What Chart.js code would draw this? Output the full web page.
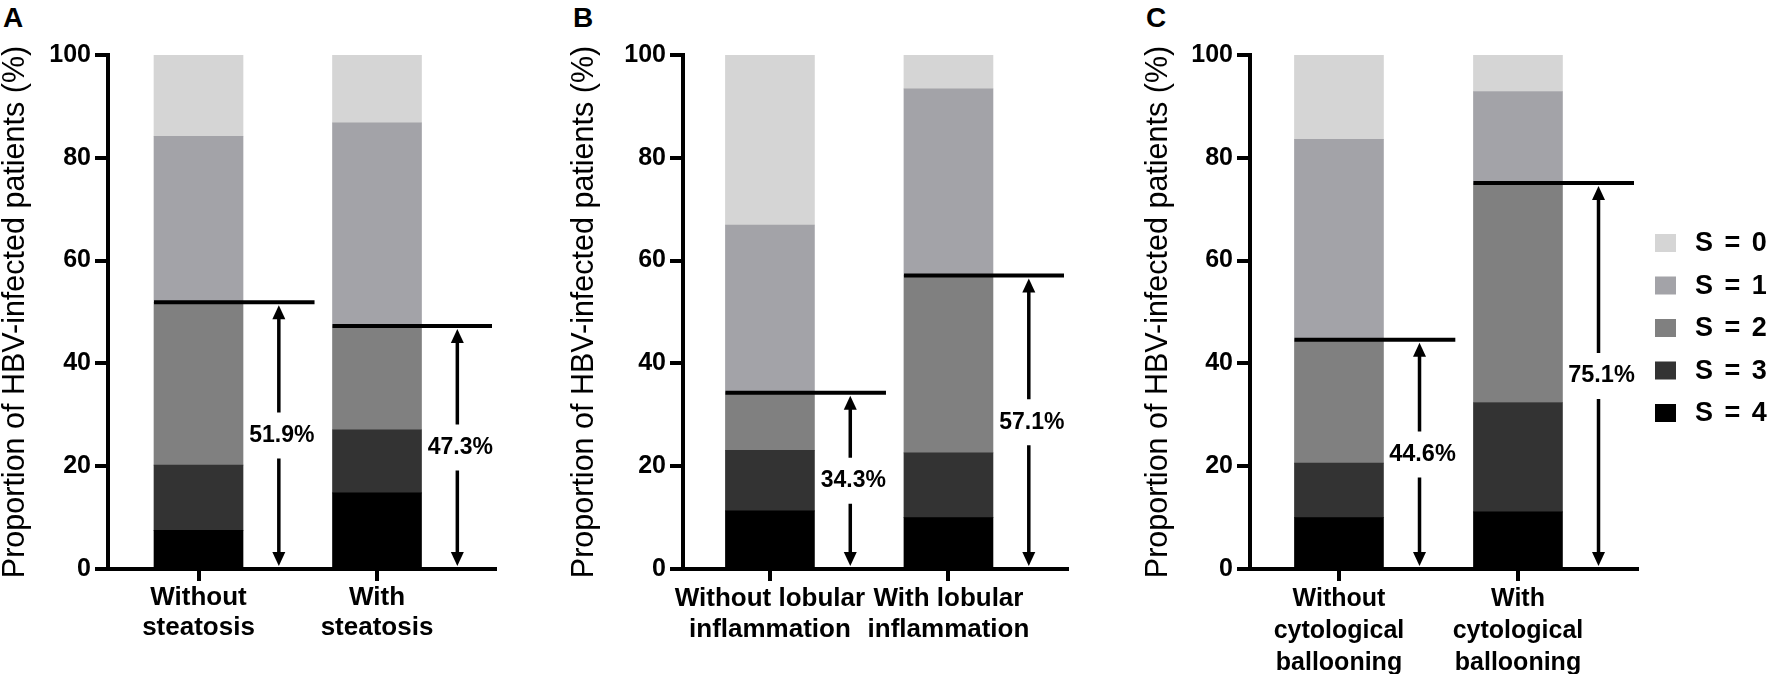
<!DOCTYPE html>
<html>
<head>
<meta charset="utf-8">
<script src="https://cdn.jsdelivr.net/npm/chart.js@4.4.1/dist/chart.umd.min.js"></script>
<style>
  body { margin: 0; background: #fff; width: 1772px; height: 674px; overflow: hidden; position: relative; }
  .panel { position: absolute; top: 0; }
  .tag { position: absolute; top: 2px; font: bold 28px 'Liberation Sans', Arial, sans-serif; color: #000; }
</style>
</head>
<body>
<div class="tag" style="left:3px">A</div>
<div class="tag" style="left:573px">B</div>
<div class="tag" style="left:1146px">C</div>
<canvas id="chartA" class="panel" style="left:0px" width="520" height="674"></canvas>
<canvas id="chartB" class="panel" style="left:569px" width="521" height="674"></canvas>
<canvas id="chartC" class="panel" style="left:1143px" width="629" height="674"></canvas>
<script>
// stages, bottom of the stack first
const stages = ['S = 4', 'S = 3', 'S = 2', 'S = 1', 'S = 0']
const stageColors = ['#000000', '#333333', '#808080', '#a3a3a8', '#d5d5d5']

const catsA = [['Without', 'steatosis'], ['With', 'steatosis']]
const catsB = [['Without lobular', 'inflammation'], ['With lobular', 'inflammation']]
const catsC = [['Without', 'cytological', 'ballooning'], ['With', 'cytological', 'ballooning']]

// % of patients per stage [S4, S3, S2, S1, S0]
const steatosisWithout = [7.5, 12.7, 31.7, 32.3, 15.8]
const steatosisWith = [14.8, 12.3, 20.2, 39.5, 13.2]
const lobularWithout = [11.3, 11.8, 11.2, 32.6, 33.1]
const lobularWith = [10.0, 12.6, 34.5, 36.3, 6.6]
const balloonWithout = [10.0, 10.6, 24.0, 39.0, 16.4]
const balloonWith = [11.1, 21.3, 42.7, 17.8, 7.1]

// share of patients with S >= 2
const advancedA = [51.9, 47.3]
const advancedB = [34.3, 57.1]
const advancedC = [44.6, 75.1]

const yTicks = [0, 20, 40, 60, 80, 100]

const SANS = "'Liberation Sans', Arial, sans-serif"
const BAR = 89

// panel C uses a condensed face; fall back to a smaller regular one if it is missing
function hasFont(name) {
  const c = document.createElement('canvas').getContext('2d')
  c.font = '40px monospace'
  const a = c.measureText('Without cytological 0123').width
  c.font = `40px '${name}', monospace`
  return c.measureText('Without cytological 0123').width !== a
}
const narrowOk = hasFont('Liberation Sans Narrow')
const NARROW = narrowOk ? "'Liberation Sans Narrow', " + SANS : SANS
const catC = narrowOk ? 28 : 25

// horizontal line + double arrow + percentage for each bar
const markers = {
  id: 'markers',
  afterDatasetsDraw(chart, args, opts) {
    const { ctx, scales: { x, y } } = chart
    const y0 = y.getPixelForValue(0)
    ctx.save()
    ctx.strokeStyle = '#000'
    ctx.fillStyle = '#000'
    opts.values.forEach((v, i) => {
      const yv = y.getPixelForValue(v)
      const xl = x.getPixelForValue(i) - BAR / 2
      const xr = i === opts.values.length - 1 ? x.right - 3 : x.getPixelForValue(i + 0.65)
      const xa = x.getPixelForValue(i + 0.45)
      const ym = y.getPixelForValue(v / 2)

      ctx.lineWidth = 4
      ctx.beginPath()
      ctx.moveTo(xl, yv)
      ctx.lineTo(xr, yv)
      ctx.stroke()

      // shaft, broken round the label
      ctx.lineWidth = 3.5
      ctx.beginPath()
      ctx.moveTo(xa, yv + 12)
      ctx.lineTo(xa, ym - 23)
      ctx.moveTo(xa, ym + 23)
      ctx.lineTo(xa, y0 - 12)
      ctx.stroke()

      // heads
      ctx.beginPath()
      ctx.moveTo(xa, yv + 3)
      ctx.lineTo(xa - 6.5, yv + 17)
      ctx.lineTo(xa + 6.5, yv + 17)
      ctx.closePath()
      ctx.fill()
      ctx.beginPath()
      ctx.moveTo(xa, y0 - 3)
      ctx.lineTo(xa - 6.5, y0 - 17)
      ctx.lineTo(xa + 6.5, y0 - 17)
      ctx.closePath()
      ctx.fill()

      ctx.font = opts.font
      ctx.textAlign = 'center'
      ctx.textBaseline = 'middle'
      ctx.fillText(v.toFixed(1) + '%', xa + 3, ym)
    })
    ctx.restore()
  }
}

// legend drawn from the datasets, top stage first
const stageLegend = {
  id: 'stageLegend',
  afterDraw(chart, args, opts) {
    if (!opts.show) return
    const { ctx } = chart
    const items = chart.data.datasets.slice().reverse()
    ctx.save()
    ctx.font = opts.font
    ctx.letterSpacing = '2px'
    ctx.textAlign = 'left'
    ctx.textBaseline = 'middle'
    items.forEach((ds, k) => {
      const cy = opts.top + k * opts.step
      ctx.fillStyle = ds.backgroundColor
      ctx.fillRect(opts.left, cy - 9, 21, 18)
      ctx.fillStyle = '#000'
      ctx.fillText(ds.label, opts.left + 40, cy + 1)
    })
    ctx.restore()
  }
}

function makeChart(id, cats, without, withV, advanced, cfg) {
  const datasets = stages.map((s, k) => ({
    label: s,
    data: [{ x: 0, y: without[k] }, { x: 1, y: withV[k] }],
    backgroundColor: stageColors[k],
    borderWidth: 0,
    barThickness: BAR
  }))
  return new Chart(document.getElementById(id), {
    type: 'bar',
    data: { datasets },
    plugins: [markers, stageLegend],
    options: {
      responsive: false,
      animation: false,
      devicePixelRatio: 1,
      layout: { padding: { top: 55, right: cfg.padRight, bottom: 0, left: 0 } },
      plugins: {
        legend: { display: false },
        tooltip: { enabled: false },
        markers: { values: advanced, font: cfg.pctFont },
        stageLegend: cfg.legend || { show: false }
      },
      scales: {
        x: {
          type: 'linear',
          stacked: true,
          offset: false,
          min: cfg.xMin,
          max: cfg.xMax,
          afterBuildTicks: s => { s.ticks = cats.map((c, i) => ({ value: i })) },
          afterFit: s => { s.height = 105 },
          ticks: {
            autoSkip: false,
            maxRotation: 0,
            padding: 2,
            color: '#000',
            font: { family: cfg.family, size: cfg.catSize, weight: 'bold', lineHeight: cfg.catLine },
            callback: v => cats[v]
          },
          grid: { drawOnChartArea: false, offset: false, tickLength: 12, lineWidth: 4, color: '#000' },
          border: { width: 4, color: '#000' }
        },
        y: {
          stacked: true,
          min: 0,
          max: 100,
          afterBuildTicks: s => { s.ticks = yTicks.map(v => ({ value: v })) },
          afterFit: s => { s.width = cfg.yWidth },
          ticks: {
            padding: 4,
            color: '#000',
            font: { family: cfg.family, size: cfg.tickSize, weight: 'bold' }
          },
          grid: { drawOnChartArea: false, tickLength: 13, lineWidth: 4, color: '#000' },
          border: { width: 4, color: '#000' },
          title: {
            display: true,
            text: 'Proportion of HBV-infected patients (%)',
            color: '#000',
            padding: 0,
            font: { family: SANS, size: 30.5, weight: 'normal', lineHeight: 1 }
          }
        }
      }
    }
  })
}

makeChart('chartA', catsA, steatosisWithout, steatosisWith, advancedA, {
  family: SANS, catSize: 26, catLine: '30px', tickSize: 25, pctFont: 'bold 23px ' + SANS,
  yWidth: 108, padRight: 25, xMin: -0.507, xMax: 1.661
})
makeChart('chartB', catsB, lobularWithout, lobularWith, advancedB, {
  family: SANS, catSize: 26, catLine: '31px', tickSize: 25, pctFont: 'bold 23px ' + SANS,
  yWidth: 114, padRight: 23, xMin: -0.487, xMax: 1.664
})
makeChart('chartC', catsC, balloonWithout, balloonWith, advancedC, {
  family: NARROW, catSize: catC, catLine: '32px', tickSize: narrowOk ? 28 : 25,
  pctFont: 'bold ' + (narrowOk ? 28 : 23.5) + 'px ' + NARROW,
  yWidth: 107, padRight: 135, xMin: -0.497, xMax: 1.665,
  legend: { show: true, left: 512, top: 243, step: 42.5, font: 'bold 27px ' + SANS }
})
</script>
</body>
</html>
